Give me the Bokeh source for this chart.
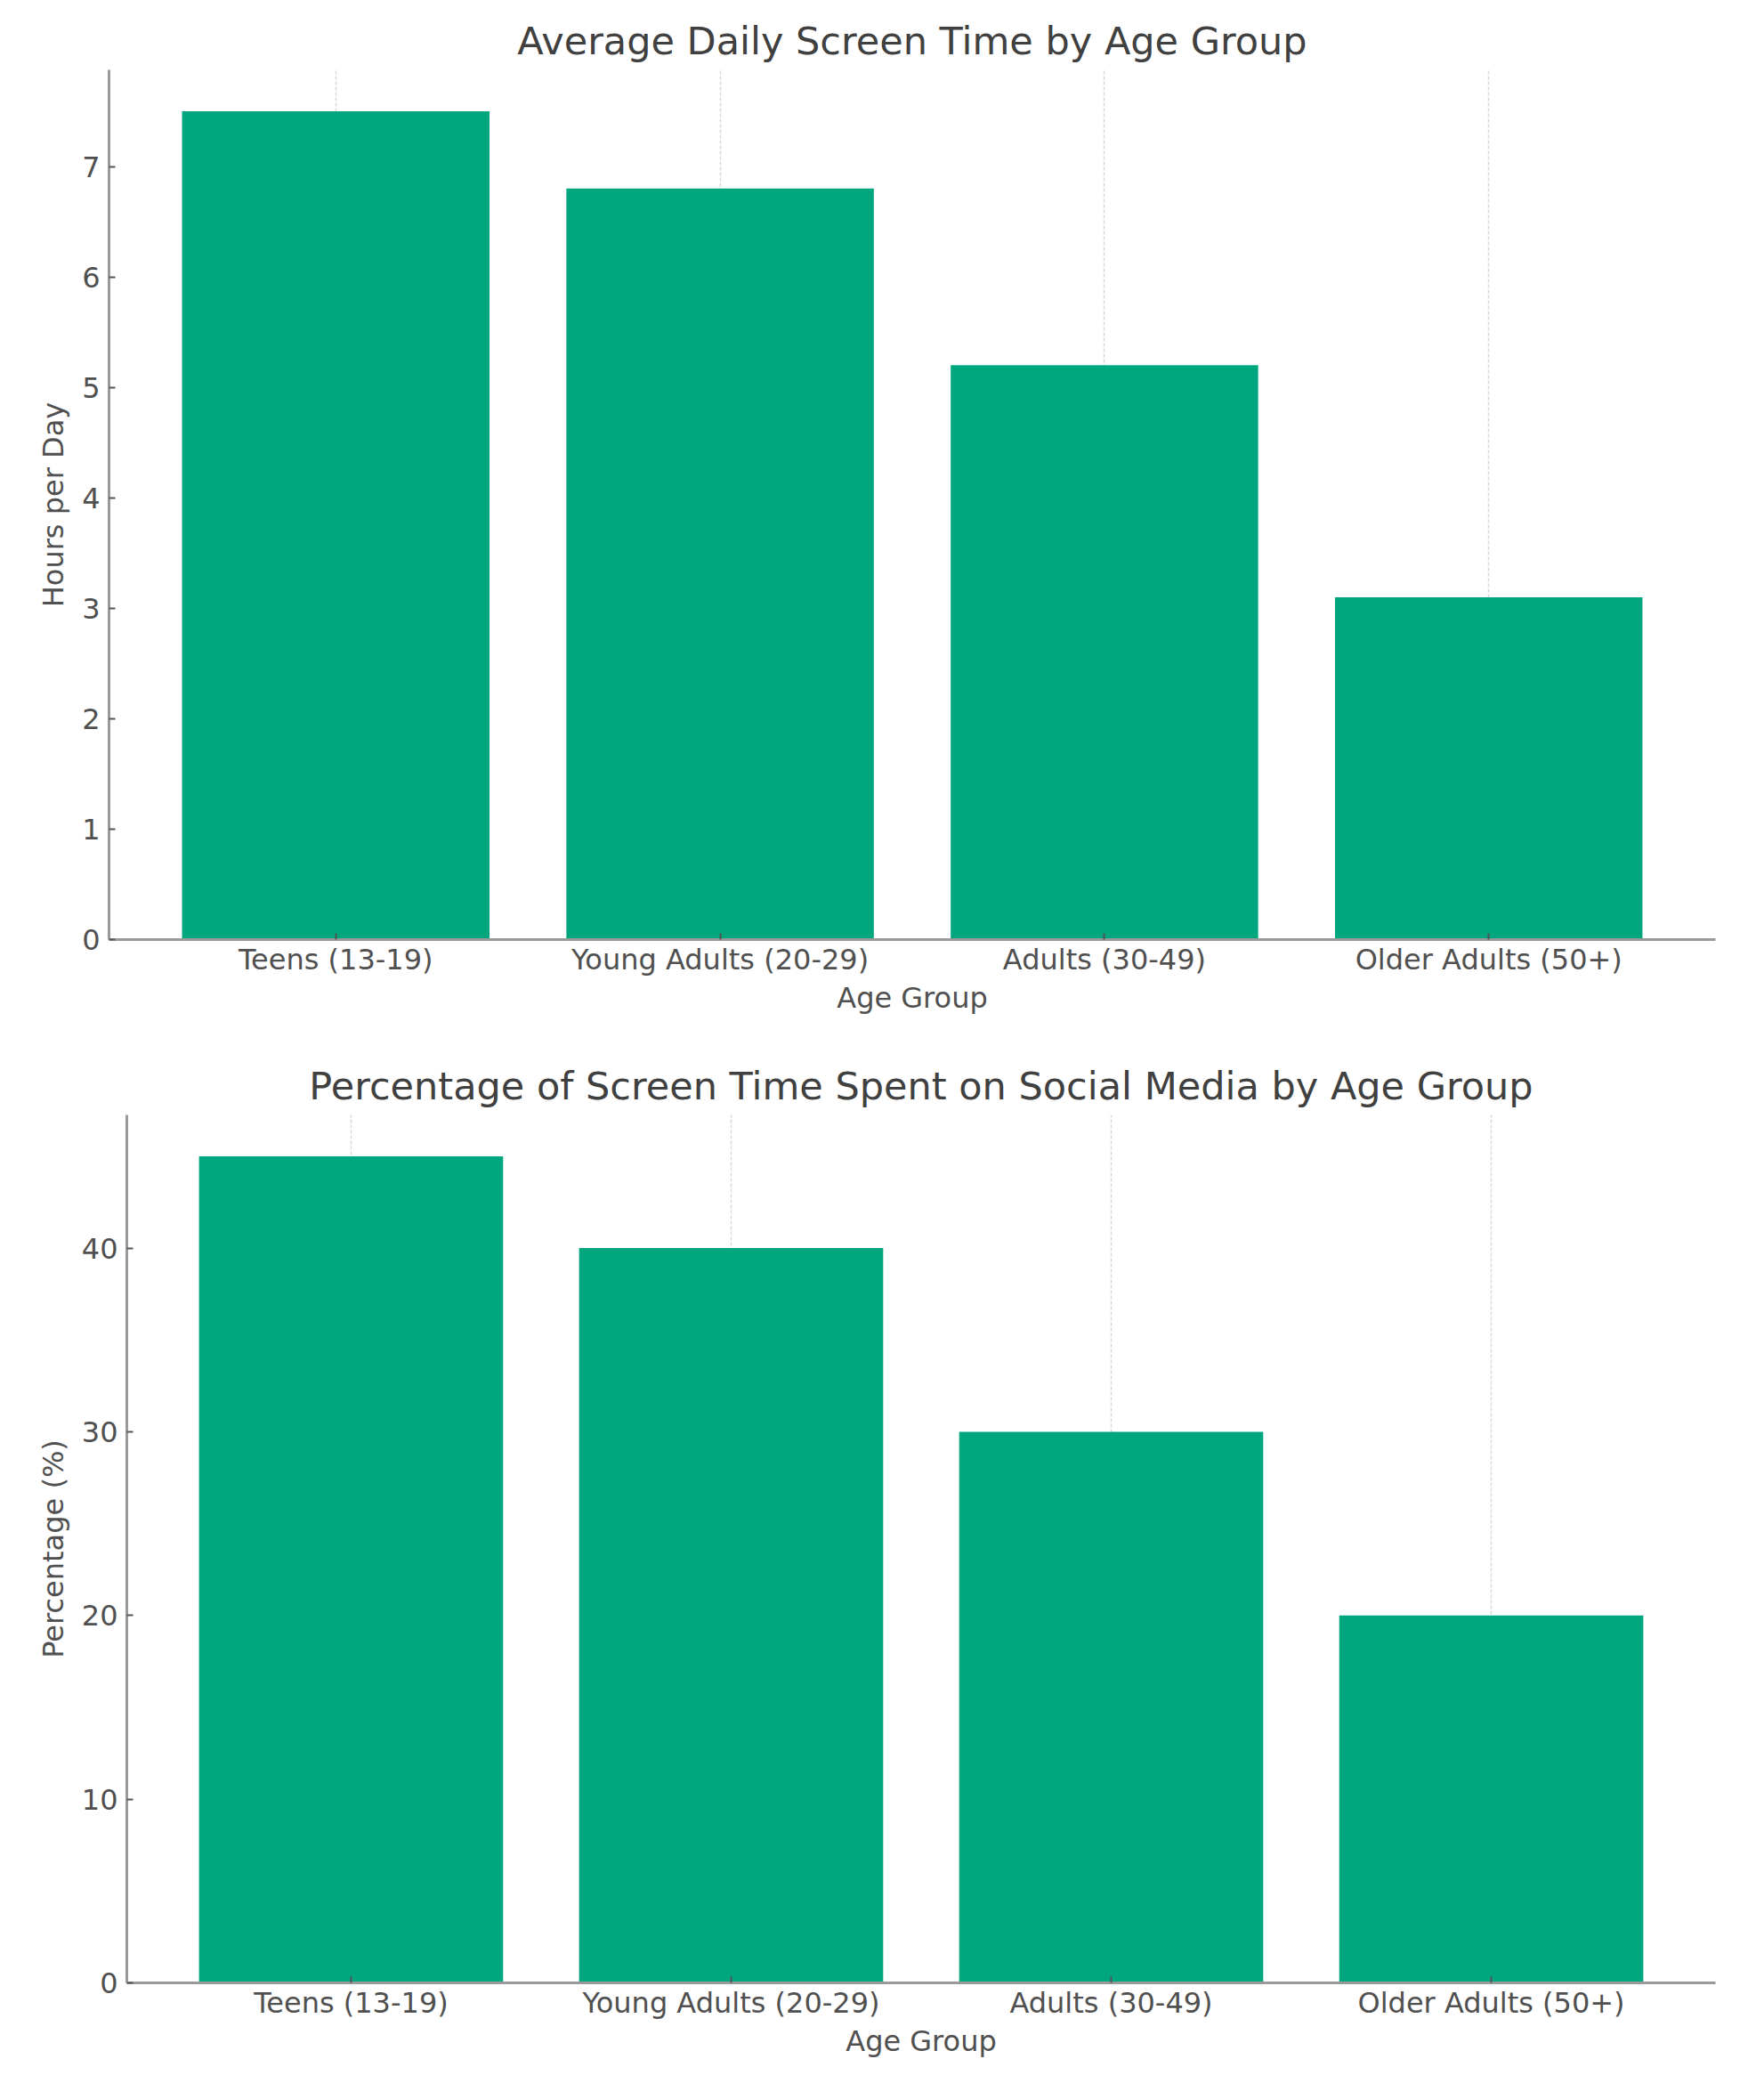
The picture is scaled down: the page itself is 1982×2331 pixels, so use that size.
from bokeh.plotting import figure
from bokeh.models import FactorRange, Range1d, SingleIntervalTicker
from bokeh.embed import file_html
from bokeh.resources import INLINE

categories = ["Teens (13-19)", "Young Adults (20-29)", "Adults (30-49)", "Older Adults (50+)"]
screen_hours = [7.5, 6.8, 5.2, 3.1]
social_pct = [45, 40, 30, 20]

BAR = "#00A67E"
FONT = "DejaVu Sans"
TXT = "#505050"
AX = "#9a9a9a"


def make(title, values, ylabel, ymax, tick_step, height, left, top, bottom):
    p = figure(x_range=FactorRange(*categories, range_padding=0.09, range_padding_units="absolute"),
               y_range=Range1d(0, ymax), width=1982, height=height,
               output_backend="svg", toolbar_location=None,
               min_border_left=left, min_border_right=55, min_border_top=top, min_border_bottom=bottom)
    p.vbar(x=categories, top=values, width=0.8, color=BAR, line_color=None)
    p.title.text = title
    p.title.align = "center"
    p.title.text_font = FONT
    p.title.text_font_size = "43px"
    p.title.text_font_style = "normal"
    p.title.text_color = "#404040"
    p.title.standoff = 16
    p.outline_line_color = None
    p.ygrid.grid_line_color = None
    p.xgrid.grid_line_color = "#cfcfcf"
    p.xgrid.grid_line_width = 1.5
    p.xgrid.grid_line_dash = "4 2"
    p.xgrid.grid_line_alpha = 0.8
    p.yaxis.ticker = SingleIntervalTicker(interval=tick_step)
    for ax in (p.xaxis[0], p.yaxis[0]):
        ax.axis_line_color = AX
        ax.axis_line_width = 3
        ax.major_tick_line_color = "#555555"
        ax.major_tick_line_width = 2
        ax.major_tick_in = 7
        ax.major_tick_out = 0
        ax.minor_tick_line_color = None
        ax.major_label_text_font = FONT
        ax.major_label_text_font_size = "32px"
        ax.major_label_text_color = TXT
        ax.axis_label_text_font = FONT
        ax.axis_label_text_font_size = "32px"
        ax.axis_label_text_font_style = "normal"
        ax.axis_label_text_color = TXT
    p.xaxis.axis_label = "Age Group"
    p.yaxis.axis_label = ylabel
    p.xaxis.major_label_standoff = 3
    p.xaxis.axis_label_standoff = 2
    p.yaxis.major_label_standoff = 6
    p.yaxis.axis_label_standoff = 10
    return p


p1 = make("Average Daily Screen Time by Age Group", screen_hours, "Hours per Day",
          7.875, 1, 1150, 122, 78, 95)
p2 = make("Percentage of Screen Time Spent on Social Media by Age Group", social_pct, "Percentage (%)",
          47.25, 10, 1175, 142, 102, 98)

open("out.html", "w").write(file_html([p1, p2], INLINE))
